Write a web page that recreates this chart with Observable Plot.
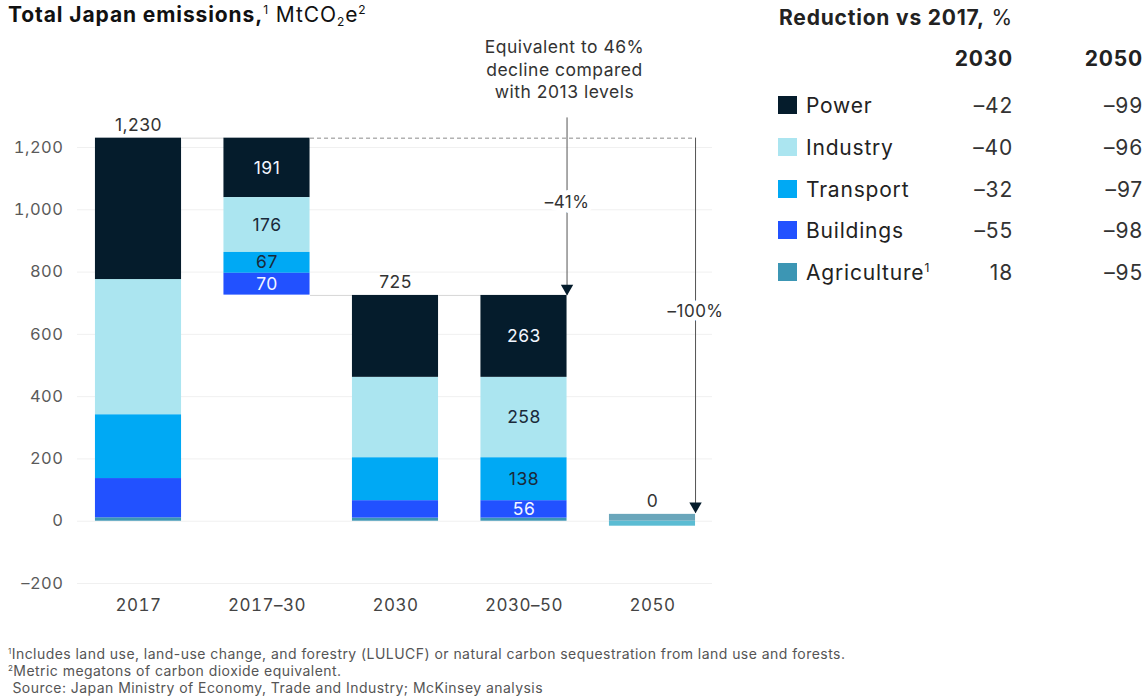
<!DOCTYPE html>
<html><head><meta charset="utf-8">
<script src="https://cdn.jsdelivr.net/npm/d3@7"></script>
<script src="https://cdn.jsdelivr.net/npm/@observablehq/plot@0.6"></script>
<style>
body{margin:0;background:#fff;font-family:Inter,"Noto Sans",sans-serif;}
#wrap{position:relative;width:1148px;height:699px;overflow:hidden;background:#fff}
#chart{position:absolute;left:0;top:0}
#title{position:absolute;left:8px;top:2px;font-size:21px;letter-spacing:0.9px;color:#111;white-space:nowrap}
#title b{font-weight:700}
#title sup{font-size:12px;vertical-align:8px;line-height:0}
#title sub{font-size:12px;vertical-align:-4px;line-height:0}
#legend{position:absolute;left:0;top:0;width:1148px;height:300px}
.lg{position:absolute;white-space:nowrap;color:#222;font-size:21px;letter-spacing:0.8px;line-height:1}
.lg sup{font-size:12px;vertical-align:8px;line-height:0}
.sw{position:absolute;width:19px;height:18px}
#notes{position:absolute;left:8px;top:645px;font-size:14px;letter-spacing:0.45px;color:#555;line-height:17px;white-space:nowrap}
#notes sup{font-size:8px;vertical-align:5px;line-height:0}
</style></head><body><div id="wrap">
<div id="chart"></div>
<div id="title"><b>Total Japan emissions,</b><sup>1</sup> MtCO<sub>2</sub>e<sup>2</sup></div>
<div id="legend"></div>
<div id="notes"><div><sup>1</sup>Includes land use, land-use change, and forestry (LULUCF) or natural carbon sequestration from land use and forests.</div><div><sup>2</sup>Metric megatons of carbon dioxide equivalent.</div><div>&nbsp;Source: Japan Ministry of Economy, Trade and Industry; McKinsey analysis</div></div>
</div>
<script>
// ---------- data ----------
const categories = ["2017", "2017–30", "2030", "2030–50", "2050"];
const sectors = ["Power", "Industry", "Transport", "Buildings", "Agriculture"];
const sectorColors = ["#051c2c", "#abe5f0", "#00a9f4", "#2251ff", "#3c96b4"];
const values2017 = [454, 434, 205, 126, 11];
const change2017to30 = [191, 176, 67, 70, 0];
const values2030 = [263, 258, 138, 56, 10];
const change2030to50 = [263, 258, 138, 56, 10];
const residual2050 = 22;      // remaining gross emissions
const sink2050 = -16;         // LULUCF sequestration
const sinkColor = "#5bbcd3";
const totalLabels = [{i: 0, v: 1230, t: "1,230"}, {i: 2, v: 725, t: "725"}, {i: 4, v: 22, t: "0"}];
const reduction2030 = ["–42", "–40", "–32", "–55", "18"];
const reduction2050 = ["–99", "–96", "–97", "–98", "–95"];
const yTicks = [-200, 0, 200, 400, 600, 800, 1000, 1200];
const annotation = {text: "Equivalent to 46%\ndecline compared\nwith 2013 levels", y: 1454};
const arrow41 = {label: "–41%", from: 1295, to: 725, labelY: 1023};
const arrow100 = {label: "–100%", from: 1230, to: 26, labelY: 672};

// ---------- build segments ----------
const hw = 0.335; // half bar width in category units
const segs = [];
const order = [4, 3, 2, 1, 0]; // bottom to top
function stackUp(i, vals, showLabel) {
  let y = 0;
  for (const k of order) {
    if (!vals[k]) continue;
    segs.push({i, y1: y, y2: y + vals[k], k, v: vals[k], color: sectorColors[k], show: showLabel});
    y += vals[k];
  }
}
stackUp(0, values2017, false);
{ let top = 1230;
  for (let k = 0; k < 5; k++) { if (!change2017to30[k]) continue;
    segs.push({i: 1, y1: top - change2017to30[k], y2: top, k, v: change2017to30[k], color: sectorColors[k], show: true});
    top -= change2017to30[k]; } }
stackUp(2, values2030, false);
stackUp(3, change2030to50, true);
segs.push({i: 4, y1: 0, y2: residual2050, k: 4, v: residual2050, color: "#6aa6bb", show: false});
segs.push({i: 4, y1: sink2050, y2: 0, k: 5, v: sink2050, color: sinkColor, show: false});

const labelSegs = segs.filter(d => d.show && d.v >= 40);
const lightText = new Set([0, 3]);

const connectors = [{a: 0, b: 1, y: 1230}, {a: 1, b: 2, y: 725}, {a: 2, b: 3, y: 725}];
const fmt = d3.format(",");
const font = "Inter, 'Noto Sans', sans-serif";

const plot = Plot.plot({
  width: 1148, height: 630,
  marginLeft: 77, marginRight: 1148 - 712, marginTop: 147, marginBottom: 47,
  x: {domain: [-0.4747, 4.467], axis: null},
  y: {domain: [-200, 1200], axis: null},
  color: {type: "identity"},
  style: {fontFamily: font, background: "transparent", overflow: "visible", letterSpacing: "0.5px"},
  marks: [
    Plot.ruleY(yTicks, {stroke: "#f0f0f0", strokeWidth: 1}),
    Plot.axisY(yTicks, {tickSize: 0, tickPadding: 14, fontSize: 16.5, color: "#5a5a5a", label: null,
      tickFormat: d => d < 0 ? "–" + fmt(-d) : fmt(d)}),
    Plot.axisX([0, 1, 2, 3, 4], {tickSize: 0, tickPadding: 15, fontSize: 17, color: "#444", label: null,
      tickFormat: i => categories[i]}),
    Plot.link(connectors, {x1: d => d.a + hw, x2: d => d.b - hw, y1: "y", y2: "y", stroke: "#d6d6d6", strokeWidth: 1}),
    Plot.link([{y: 1230}], {x1: () => 1 + hw, x2: () => 4 + hw, y1: "y", y2: "y", stroke: "#8a8a8a", strokeDasharray: "4,3", strokeWidth: 1}),
    Plot.rect(segs, {x1: d => d.i - hw, x2: d => d.i + hw, y1: "y1", y2: "y2", fill: "color"}),
    Plot.text(labelSegs, {x: "i", y: d => (d.y1 + d.y2) / 2, text: d => String(d.v), fontSize: 17.5,
      fill: d => lightText.has(d.k) ? "#f2f6ff" : "#1a2a3a"}),
    Plot.text(totalLabels, {x: "i", y: "v", text: "t", fontSize: 17.5, fill: "#333", lineAnchor: "bottom", dy: -7}),
    // -41% arrow
    Plot.ruleX([arrow41], {x: () => 3 + hw, y1: "from", y2: "to", stroke: "#555", strokeWidth: 1}),
    Plot.text([arrow41], {x: () => 3 + hw, y: "labelY", text: "label", fontSize: 17, fill: "#333", stroke: "white", strokeWidth: 10}),
    Plot.dot([arrow41], {x: () => 3 + hw, y: "to", symbol: "triangle", rotate: 180, r: 4.6, fill: "#051c2c", dy: -7}),
    // -100% arrow
    Plot.ruleX([arrow100], {x: () => 4 + hw, y1: "from", y2: "to", stroke: "#555", strokeWidth: 1}),
    Plot.text([arrow100], {x: () => 4 + hw, y: "labelY", text: "label", fontSize: 17, fill: "#333", stroke: "white", strokeWidth: 10}),
    Plot.dot([arrow100], {x: () => 4 + hw, y: "to", symbol: "triangle", rotate: 180, r: 4.6, fill: "#051c2c", dy: -7}),
    Plot.text([annotation], {x: () => 3 + hw - 0.02, y: "y", text: "text", fontSize: 17.5, lineHeight: 1.3, fill: "#333"})
  ]
});
document.getElementById("chart").appendChild(plot);

// ---------- legend table ----------
const lg = d3.select("#legend");
lg.append("div").attr("class", "lg").style("left", "779px").style("top", "7px")
  .html("<b>Reduction vs 2017,</b> %");
lg.append("div").attr("class", "lg").style("right", (1148 - 1013) + "px").style("top", "48px").style("font-weight", "700").text("2030");
lg.append("div").attr("class", "lg").style("right", (1148 - 1143) + "px").style("top", "48px").style("font-weight", "700").text("2050");
sectors.forEach((s, k) => {
  const cy = 105 + 41.8 * k;
  lg.append("div").attr("class", "sw").style("left", "778px").style("top", (cy - 9) + "px").style("background", sectorColors[k]);
  lg.append("div").attr("class", "lg").style("left", "806px").style("top", (cy - 10) + "px")
    .html(s + (k === 4 ? "<sup>1</sup>" : ""));
  lg.append("div").attr("class", "lg").style("right", (1148 - 1013) + "px").style("top", (cy - 10) + "px").style("color", "#333").text(reduction2030[k]);
  lg.append("div").attr("class", "lg").style("right", (1148 - 1143) + "px").style("top", (cy - 10) + "px").style("color", "#333").text(reduction2050[k]);
});
</script>
</body></html>
